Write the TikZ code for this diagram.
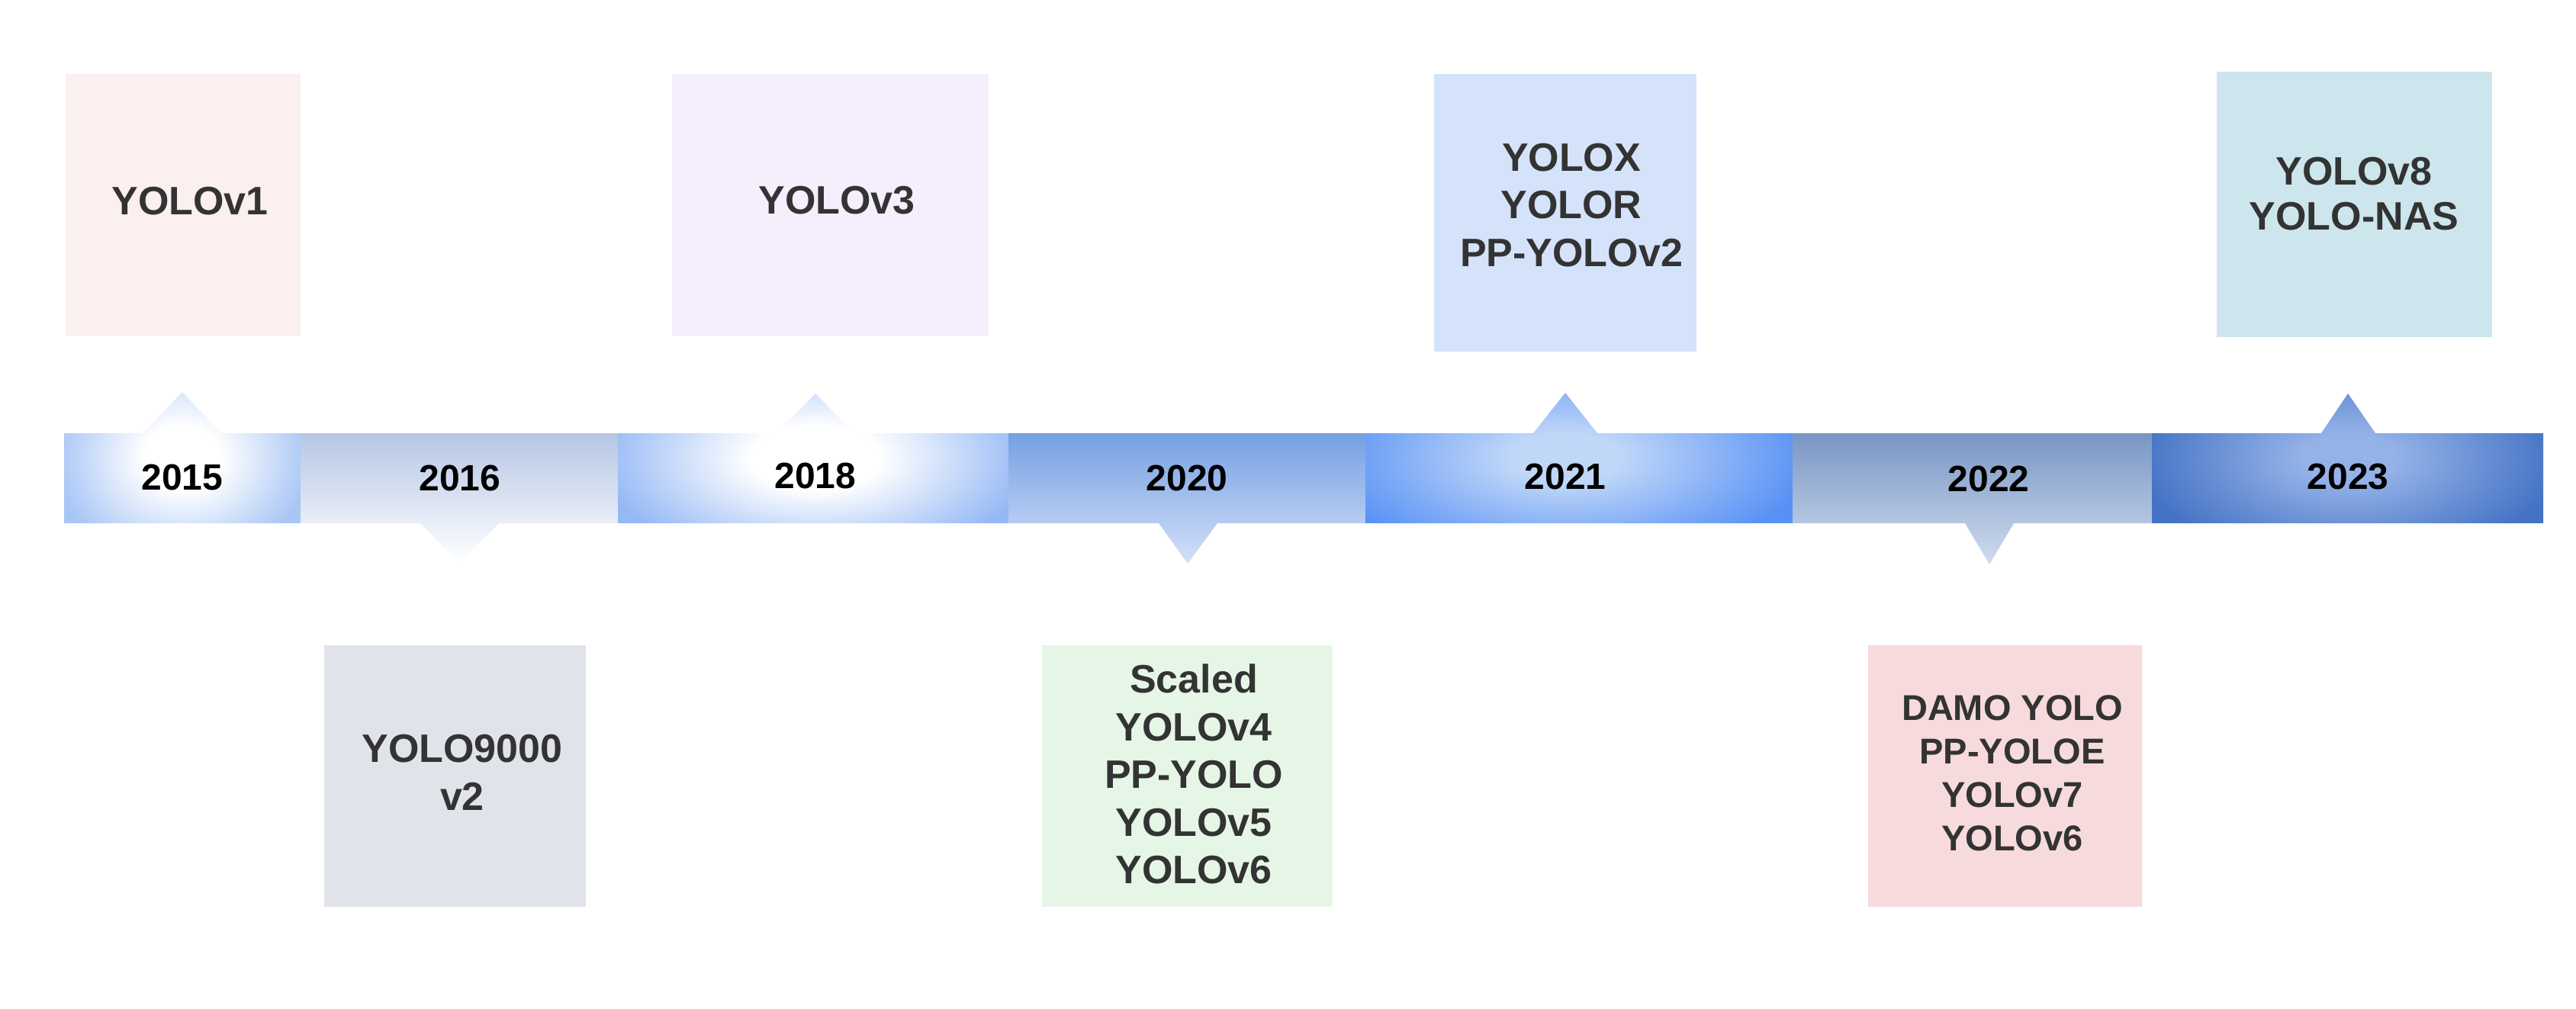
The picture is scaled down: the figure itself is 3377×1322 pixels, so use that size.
\documentclass[tikz,border=0pt]{standalone}
\usepackage{fontspec}
\setmainfont{Liberation Sans}
\definecolor{txt}{HTML}{333333}
\definecolor{cA}{HTML}{FBEFEF}
\definecolor{cB}{HTML}{F5EEFC}
\definecolor{cC}{HTML}{D4E3FA}
\definecolor{cD}{HTML}{CDE6ED}
\definecolor{cE}{HTML}{E0E3E9}
\definecolor{cF}{HTML}{E6F6E6}
\definecolor{cG}{HTML}{F6DADC}
\definecolor{e15}{HTML}{A8C6F5}
\definecolor{e18}{HTML}{96B9F5}
\definecolor{i21}{HTML}{C0D7F8}
\definecolor{e21}{HTML}{5891F5}
\definecolor{i23}{HTML}{94B2E8}
\definecolor{e23}{HTML}{4472C4}
\definecolor{t16}{HTML}{B5C6E4}
\definecolor{t20}{HTML}{74A0E2}
\definecolor{b20}{HTML}{D4E0F9}
\definecolor{t22}{HTML}{7896C4}
\definecolor{b22}{HTML}{CFDCEE}
\pgfdeclareradialshading{r15}{\pgfpointorigin}{color(0bp)=(white); color(8bp)=(white); color(27bp)=(e15); color(50bp)=(e15)}
\pgfdeclareradialshading{r18}{\pgfpointorigin}{color(0bp)=(white); color(8bp)=(white); color(27bp)=(e18); color(50bp)=(e18)}
\pgfdeclareradialshading{r21}{\pgfpointorigin}{color(0bp)=(i21); color(6bp)=(i21); color(27bp)=(e21); color(50bp)=(e21)}
\pgfdeclareradialshading{r23}{\pgfpointorigin}{color(0bp)=(i23); color(6bp)=(i23); color(27bp)=(e23); color(50bp)=(e23)}
\tikzset{
  card/.style={draw=none, inner sep=0pt, outer sep=0pt, anchor=north west},
  lbl/.style={text=txt, font=\bfseries\fontsize{52}{62.5}\selectfont, align=center, inner sep=0pt},
  lblsmall/.style={text=txt, font=\bfseries\fontsize{47}{57}\selectfont, align=center, inner sep=0pt},
  yr/.style={text=black, font=\bfseries\fontsize{48}{58}\selectfont, inner sep=0pt, anchor=base},
}
\begin{document}
\begin{tikzpicture}[x=1pt, y=-1pt]
\useasboundingbox (0,0) rectangle (3377,1322);
\fill[white] (0,0) rectangle (3377,1322);

% cards
\node[card, fill=cA, minimum width=308pt, minimum height=343pt] (b1) at (86,97) {};
\node[card, fill=cB, minimum width=415pt, minimum height=343pt] (b3) at (881,97) {};
\node[card, fill=cC, minimum width=344pt, minimum height=364pt] (bx) at (1880,97) {};
\node[card, fill=cD, minimum width=361pt, minimum height=348pt] (b8) at (2906,94) {};
\node[card, fill=cE, minimum width=343pt, minimum height=343pt] (b9) at (425,846) {};
\node[card, fill=cF, minimum width=381pt, minimum height=343pt] (bs) at (1366,846) {};
\node[card, fill=cG, minimum width=359pt, minimum height=343pt] (bd) at (2449,846) {};

\node[lbl, anchor=base] (t1) at (249,281) {YOLOv1};
\node[lbl, anchor=base] (t3) at (1097,280) {YOLOv3};
\node[lbl] (tx) at (2060,269) {YOLOX\\YOLOR\\PP-YOLOv2};
\node[lbl, font=\bfseries\fontsize{52}{59}\selectfont] (t8) at (3086,254) {YOLOv8\\YOLO-NAS};
\node[lbl] (t9) at (606,1013) {YOLO9000\\v2};
\node[lbl] (ts) at (1565,1015) {Scaled\\YOLOv4\\PP-YOLO\\YOLOv5\\YOLOv6};
\node[lblsmall] (td) at (2638,1014) {DAMO YOLO\\PP-YOLOE\\YOLOv7\\YOLOv6};

% timeline segments
\begin{scope}
  \clip (84,568) -- (187,568) -- (239,514) -- (290,568) -- (394,568) -- (394,686) -- (84,686) -- cycle;
  \shade[shading=r15] (84,470) rectangle (394,730);
\end{scope}
\shade[top color=t16, bottom color=white] (394,568) -- (810,568) -- (810,686) -- (654,686) -- (602,738) -- (551,686) -- (394,686) -- cycle;
\begin{scope}
  \clip (810,568) -- (1018,568) -- (1069,516) -- (1120,568) -- (1322,568) -- (1322,686) -- (810,686) -- cycle;
  \shade[shading=r18] (808,470) rectangle (1330,730);
\end{scope}
\shade[top color=t20, bottom color=b20] (1322,568) -- (1790,568) -- (1790,686) -- (1596,686) -- (1557,739) -- (1519,686) -- (1322,686) -- cycle;
\begin{scope}
  \clip (1790,568) -- (2010,568) -- (2052,515) -- (2094,568) -- (2350,568) -- (2350,686) -- (1790,686) -- cycle;
  \shade[shading=r21] (1754,470) rectangle (2350,730);
\end{scope}
\shade[top color=t22, bottom color=b22] (2350,568) -- (2821,568) -- (2821,686) -- (2640,686) -- (2608,740) -- (2576,686) -- (2350,686) -- cycle;
\begin{scope}
  \clip (2821,568) -- (3043,568) -- (3078,516) -- (3114,568) -- (3334,568) -- (3334,686) -- (2821,686) -- cycle;
  \shade[shading=r23] (2821,470) rectangle (3335,730);
\end{scope}

\node[yr] (y15) at (239,642) {2015};
\node[yr] (y16) at (603,643) {2016};
\node[yr] (y18) at (1069,640) {2018};
\node[yr] (y20) at (1556,643) {2020};
\node[yr] (y21) at (2052,641) {2021};
\node[yr] (y22) at (2607,644) {2022};
\node[yr] (y23) at (3078,641) {2023};
\end{tikzpicture}
\end{document}
